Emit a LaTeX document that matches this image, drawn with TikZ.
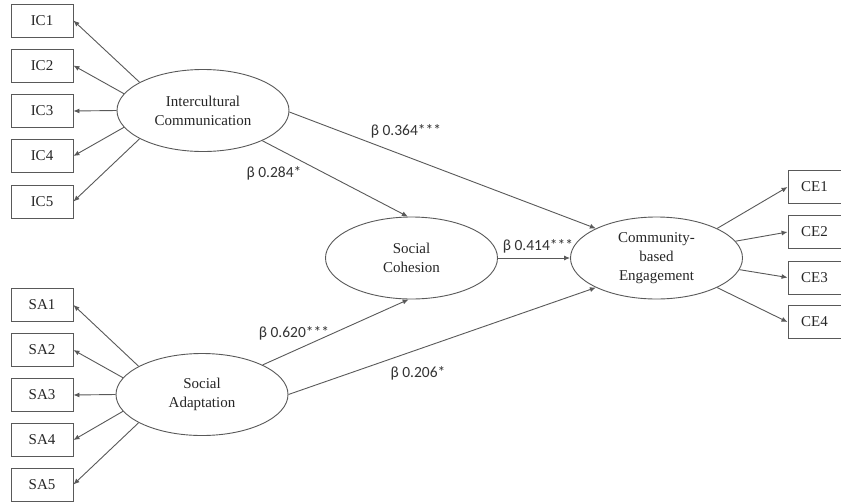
\documentclass[tikz,border=0pt]{standalone}
\usepackage{fontspec}
\setmainfont{Liberation Serif}
\newfontfamily\labfont{Carlito}
\usetikzlibrary{shapes.geometric,arrows.meta}
\definecolor{linegray}{gray}{0.35}
\begin{document}
\begin{tikzpicture}[x=1pt,y=-1pt,
  every node/.style={font=\fontsize{15}{19}\selectfont, text=black!85},
  ind/.style={draw=linegray, line width=0.9pt, minimum width=62pt, minimum height=33pt, inner sep=0pt},
  lat/.style={draw=linegray, line width=0.9pt, ellipse, minimum width=172pt, minimum height=82pt, inner sep=0pt, align=center},
  conn/.style={draw=linegray, line width=0.9pt, -{Latex[length=6pt,width=5pt]}},
  coef/.style={font=\labfont\fontsize{15.5}{18}\selectfont, text=black!80, inner sep=1pt}]
\useasboundingbox[fill=white] (0,0) rectangle (841,501);
% indicator boxes
\node[ind] (ic1) at (42,20.5) {IC1};
\node[ind] (ic2) at (42,65.5) {IC2};
\node[ind] (ic3) at (42,111) {IC3};
\node[ind] (ic4) at (42,156) {IC4};
\node[ind] (ic5) at (42,201.5) {IC5};
\node[ind] (sa1) at (42,305) {SA1};
\node[ind] (sa2) at (42,350) {SA2};
\node[ind] (sa3) at (42,395) {SA3};
\node[ind] (sa4) at (42,440) {SA4};
\node[ind] (sa5) at (42,484.5) {SA5};
\node[ind, minimum width=53pt] (ce1) at (814.5,187) {CE1};
\node[ind, minimum width=53pt] (ce2) at (814.5,232) {CE2};
\node[ind, minimum width=53pt] (ce3) at (814.5,277.5) {CE3};
\node[ind, minimum width=53pt] (ce4) at (814.5,322) {CE4};
% latent variables
\node[lat] (ic) at (203,110.5) {Intercultural\\Communication};
\node[lat] (sa) at (202,394.5) {Social\\Adaptation};
\node[lat] (sc) at (411.5,258) {Social\\Cohesion};
\node[lat] (ce) at (656.5,258) {Community-\\based\\Engagement};
% measurement arrows
\draw[conn] (ic.156) -- (ic1.east);
\draw[conn] (ic.168) -- (ic2.east);
\draw[conn] (ic.180) -- (ic3.east);
\draw[conn] (ic.192) -- (ic4.east);
\draw[conn] (ic.204) -- (ic5.east);
\draw[conn] (sa.156) -- (sa1.east);
\draw[conn] (sa.168) -- (sa2.east);
\draw[conn] (sa.180) -- (sa3.east);
\draw[conn] (sa.192) -- (sa4.east);
\draw[conn] (sa.204) -- (sa5.east);
\draw[conn] (ce.26) -- (ce1.west);
\draw[conn] (ce.12) -- (ce2.west);
\draw[conn] (ce.-8) -- (ce3.west);
\draw[conn] (ce.-26) -- (ce4.west);
% structural paths
\draw[conn] (ic.333) -- (sc.95);
\draw[conn] (ic.359) -- (ce.154);
\draw[conn] (sc.east) -- (ce.west);
\draw[conn] (sa.26) -- (sc.266);
\draw[conn] (sa.0) -- (ce.206);
% coefficients
\node[coef] (b1) at (406,131) {β 0.364***};
\node[coef] (b2) at (274,173) {β 0.284*};
\node[coef] (b3) at (538,246) {β 0.414***};
\node[coef] (b4) at (294,333) {β 0.620***};
\node[coef] (b5) at (418,373) {β 0.206*};
\end{tikzpicture}
\end{document}
